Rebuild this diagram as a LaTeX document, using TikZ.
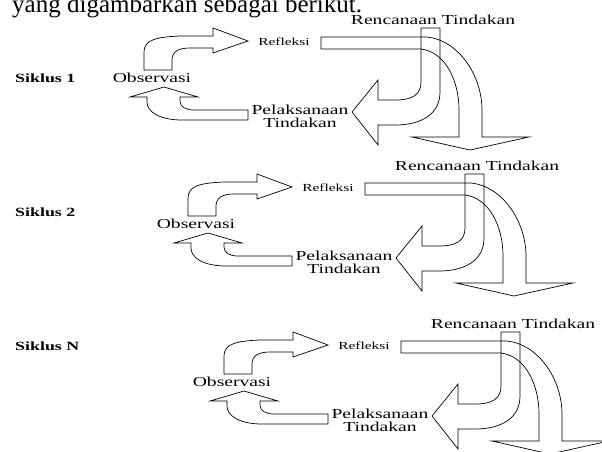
\documentclass[tikz,border=0pt]{standalone}
\usepackage{fontspec}
\setmainfont{Liberation Serif}[FakeStretch=1.43]
\newfontfamily\introfont{Liberation Serif}
\usepackage{tikz}
\usetikzlibrary{positioning}

\tikzset{
  lbl/.style={inner sep=0pt, align=center, font=\fontsize{13.7}{13}\selectfont},
  smalllbl/.style={inner sep=0pt, font=\fontsize{10.8}{12}\selectfont},
  cyclbl/.style={inner sep=0pt, anchor=west, font=\bfseries\fontsize{12.5}{13}\selectfont},
  blockarrow/.style={draw, line width=0.7pt, line join=miter}
}

\begin{document}
\begin{tikzpicture}[x=1pt,y=-1pt]
\clip (0,0) rectangle (602,452);
\useasboundingbox (0,0) rectangle (602,452);

\node[anchor=base west, inner sep=0pt, font=\introfont\fontsize{25}{27}\selectfont] (intro) at (12,12.5) {yang digambarkan sebagai berikut.};

\node[cyclbl] (sik1) at (15,78) {Siklus 1};
\node[cyclbl] (sik2) at (15,212) {Siklus 2};
\node[cyclbl] (sikN) at (15,346) {Siklus N};

\foreach \dx/\dy/\n in {0/0/1, 44/146/2, 80/304/N}{
  \begin{scope}[shift={(\dx,\dy)}]
    % observasi -> refleksi
    \draw[blockarrow] (144,70) -- (144,52) .. controls (144,40) and (156,37) .. (180,36) -- (213,36) -- (213,28) -- (248,41) -- (213,53) -- (213,48) -- (190,48) .. controls (178,48) and (172,52) .. (172,60) -- (172,70) -- cycle;
    % pelaksanaan -> observasi
    \draw[blockarrow] (248,120) -- (182,120) .. controls (160,120) and (147,112) .. (147,102) -- (147,97) -- (130,97) -- (164,87) -- (198,97) -- (180,97) -- (180,101) .. controls (180,107) and (186,110) .. (194,110) -- (248,110) -- cycle;
    % refleksi -> next cycle
    \draw[blockarrow] (321,37) -- (427,37) .. controls (458,40) and (482,75) .. (482,110) -- (482,137) -- (529,137) -- (470,150) -- (412,137) -- (459,137) -- (459,110) .. controls (459,80) and (445,52) .. (421,49) -- (321,49) -- cycle;
    % rencanaan -> pelaksanaan
    \draw[blockarrow] (421,28) -- (440,28) -- (440,92) .. controls (440,115) and (420,125) .. (395,125) -- (378,125) -- (378,145) -- (352,112) -- (378,80) -- (378,100) -- (395,100) .. controls (412,100) and (421,95) .. (421,82) -- cycle;

    \node[lbl] (renc\n) at (433,19.5) {Rencanaan Tindakan};
    \node[smalllbl] (refl\n) at (284,42) {Refleksi};
    \node[lbl] (obs\n) at (152,78) {Observasi};
    \node[lbl] (pel\n) at (300,116.5) {Pelaksanaan\\Tindakan};
  \end{scope}
}

\end{tikzpicture}
\end{document}
